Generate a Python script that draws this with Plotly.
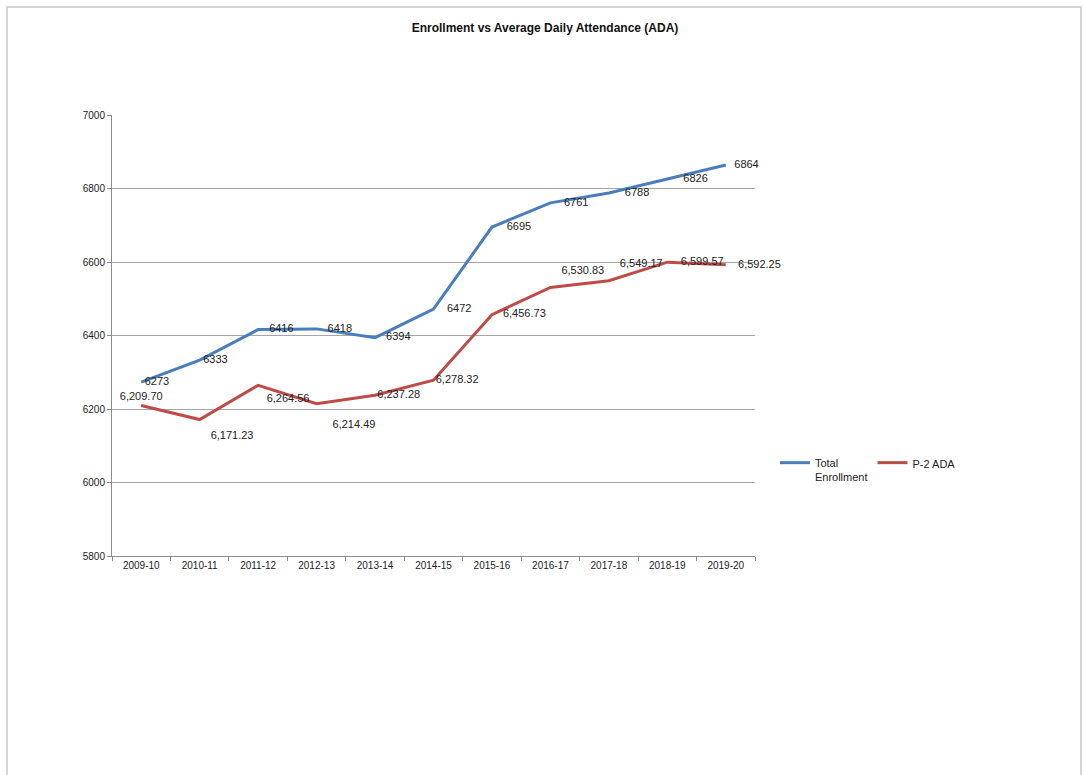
import plotly.graph_objects as go

# School years on the category axis
years = ["2009-10", "2010-11", "2011-12", "2012-13", "2013-14", "2014-15",
         "2015-16", "2016-17", "2017-18", "2018-19", "2019-20"]

# Total enrollment per year
total_enrollment = [6273, 6333, 6416, 6418, 6394, 6472, 6695, 6761, 6788, 6826, 6864]

# P-2 average daily attendance per year
p2_ada = [6209.70, 6171.23, 6264.56, 6214.49, 6237.28, 6278.32,
          6456.73, 6530.83, 6549.17, 6599.57, 6592.25]

y_ticks = [5800, 6000, 6200, 6400, 6600, 6800, 7000]

BLUE = "#4a7ebb"
RED = "#be4b48"
FONT = "Liberation Sans, Arial, sans-serif"

ada_positions = ["top center", "bottom right", "bottom right", "bottom right",
                 "middle right", "middle right", "middle right", "top right",
                 "top right", "middle right", "middle right"]

# invisible markers; their sizes set how far each value label sits from the line
enroll_gap = [4, 4, 16, 16, 16, 20, 22, 20, 24, 24, 12]
ada_gap = [2, 16, 12, 24, 2, 2, 16, 16, 16, 20, 18]

fig = go.Figure()

fig.add_trace(go.Scatter(
    x=years, y=total_enrollment, name="Total<br>Enrollment",
    mode="lines+markers+text", line=dict(color=BLUE, width=3),
    marker=dict(size=enroll_gap, color="rgba(0,0,0,0)", opacity=0, line=dict(width=0)),
    texttemplate="%{y:.0f}", textposition="middle right", cliponaxis=False,
    textfont=dict(family=FONT, size=11, color="#222222"),
))

fig.add_trace(go.Scatter(
    x=years, y=p2_ada, name="P-2 ADA",
    mode="lines+markers+text", line=dict(color=RED, width=3),
    marker=dict(size=ada_gap, color="rgba(0,0,0,0)", opacity=0, line=dict(width=0)),
    texttemplate="%{y:,.2f}", textposition=ada_positions, cliponaxis=False,
    textfont=dict(family=FONT, size=11, color="#222222"),
))

# page frame around the chart
fig.add_shape(type="rect", xref="paper", yref="paper",
              x0=-0.1633, x1=1.507, y0=-0.56, y1=1.2449,
              line=dict(color="#c8c8c8", width=1.5), fillcolor="rgba(0,0,0,0)")

fig.update_layout(
    width=1085, height=775,
    paper_bgcolor="white", plot_bgcolor="white",
    margin=dict(l=112, r=330, t=115, b=219),
    font=dict(family=FONT, color="#222222"),
    title=dict(text="<b>Enrollment vs Average Daily Attendance (ADA)</b>",
               x=545 / 1085, xanchor="center", y=1 - 28 / 775, yanchor="middle",
               font=dict(family=FONT, size=12, color="#111111")),
    legend=dict(orientation="h", x=1.031, y=0.195, xanchor="left", yanchor="middle",
                font=dict(family=FONT, size=11, color="#222222"),
                bgcolor="rgba(0,0,0,0)", itemwidth=30, traceorder="normal",
                valign="top"),
    showlegend=True,
)

fig.update_xaxes(
    type="category", range=[-0.5, len(years) - 0.5],
    showgrid=False, showline=True, linecolor="#8c8c8c", linewidth=1,
    ticks="outside", ticklen=4, tickcolor="#8c8c8c", tickson="boundaries",
    tickfont=dict(family=FONT, size=10, color="#222222"), fixedrange=True,
)
fig.update_yaxes(
    range=[5800, 7000], tickvals=y_ticks, showgrid=True, gridcolor="#a6a6a6", gridwidth=1,
    showline=True, linecolor="#8c8c8c", linewidth=1, ticks="outside", ticklen=4,
    tickcolor="#8c8c8c", zeroline=False,
    tickfont=dict(family=FONT, size=10, color="#222222"),
)

fig.write_html("out.html")
